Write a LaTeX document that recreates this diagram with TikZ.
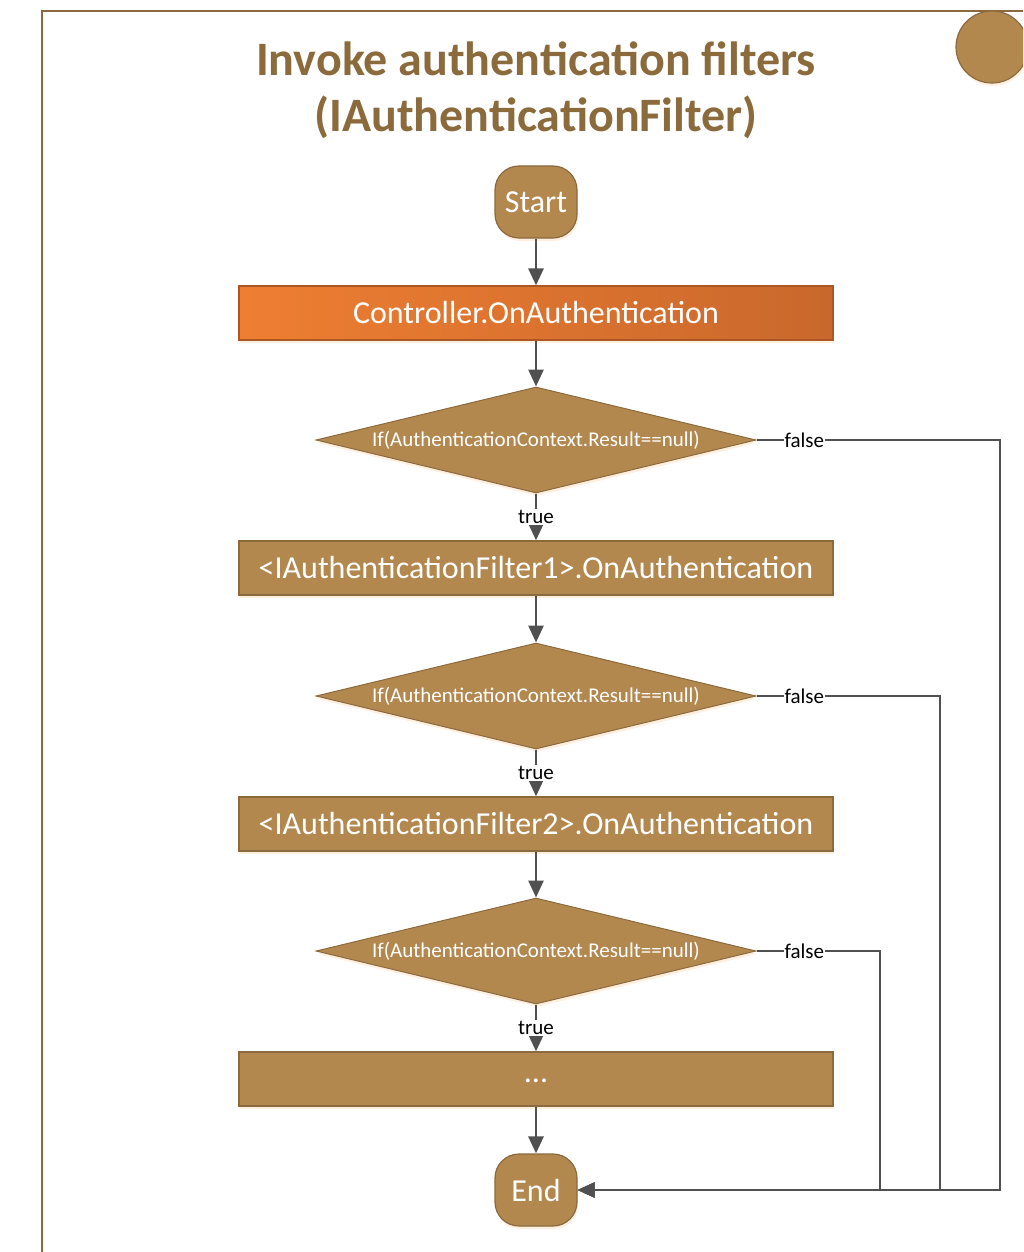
\documentclass[tikz,border=0pt]{standalone}
\usepackage{fontspec}
\setmainfont{Carlito}
\usetikzlibrary{shapes.geometric,arrows.meta,shadows}
\definecolor{bronze}{HTML}{B3884F}
\definecolor{bronzeline}{HTML}{8C6A3E}
\definecolor{titlebrown}{HTML}{8B6A3C}
\definecolor{orangeL}{HTML}{EE7E32}
\definecolor{orangeR}{HTML}{C9682C}
\definecolor{arrowgrey}{HTML}{505050}

\begin{document}
\begin{tikzpicture}[x=1pt,y=-1pt]

    \tikzstyle{glow} = [drop shadow={shadow xshift=1pt, shadow yshift=-3pt, fill=orange!25, opacity=0.5}]
    \tikzstyle{terminal} = [draw=bronzeline, fill=bronze, line width=1.2pt, rounded corners=24pt, minimum width=82pt, minimum height=72pt, text=white, font=\fontsize{32}{36}\selectfont, glow]
    \tikzstyle{process} = [draw=bronzeline, fill=bronze, line width=1.2pt, minimum width=594pt, minimum height=54pt, text=white, font=\fontsize{32}{36}\selectfont, glow]
    \tikzstyle{decision} = [diamond, aspect=4.15, draw=bronzeline, fill=bronze, line width=1pt, minimum width=440pt, minimum height=106pt, inner sep=0pt, text=white, font=\fontsize{21}{24}\selectfont, glow]
    \tikzstyle{flow} = [arrowgrey, line width=2.8pt, -{Triangle[length=17pt,width=15pt]}]
    \tikzstyle{branch} = [arrowgrey, line width=2pt, -{Triangle[length=17pt,width=15pt]}]
    \tikzstyle{answer} = [fill=white, inner sep=1pt, text=black, font=\fontsize{21}{24}\selectfont]
    \tikzstyle{frame} = [draw=bronzeline, line width=2pt]

    \useasboundingbox (0,0) rectangle (1023,1252);
    \clip (0,0) rectangle (1023,1252);

    % page frame and corner badge
    \draw[frame] (42,1252) -- (42,11) -- (1023,11);
    \node[circle, draw=bronzeline, fill=bronze, line width=1.2pt, minimum size=72pt, glow] (badge) at (992,47) {};

    \node[text=titlebrown, align=center, font=\bfseries\fontsize{48}{56}\selectfont] (title) at (536,90) {Invoke authentication filters\\(IAuthenticationFilter)};

    % main column
    \node[terminal] (start) at (536,202) {Start};
    \node[process, left color=orangeL, right color=orangeR, draw=orangeR!85!black] (ctrl) at (536,313) {Controller.OnAuthentication};
    \node[decision] (check1) at (536,440) {If(AuthenticationContext.Result==null)};
    \node[process] (filter1) at (536,568) {<IAuthenticationFilter1>.OnAuthentication};
    \node[decision] (check2) at (536,696) {If(AuthenticationContext.Result==null)};
    \node[process] (filter2) at (536,824) {<IAuthenticationFilter2>.OnAuthentication};
    \node[decision] (check3) at (536,951) {If(AuthenticationContext.Result==null)};
    \node[process] (more) at (536,1079) {\raisebox{-7pt}{...}};
    \node[terminal] (end) at (536,1190) {End};

    \draw[flow] (start) -- (ctrl);
    \draw[flow] (ctrl) -- (check1);
    \draw[flow] (check1) -- node[answer] {true} (filter1);
    \draw[flow] (filter1) -- (check2);
    \draw[flow] (check2) -- node[answer] {true} (filter2);
    \draw[flow] (filter2) -- (check3);
    \draw[flow] (check3) -- node[answer] {true} (more);
    \draw[flow] (more) -- (end);

    % false branches back to End
    \coordinate (turn1) at (1000,440);
    \coordinate (turn2) at (940,696);
    \coordinate (turn3) at (880,951);
    \draw[branch] (check1.east) -- node[answer, pos=0, anchor=west, xshift=26pt] {false} (turn1) |- (end.east);
    \draw[branch] (check2.east) -- node[answer, pos=0, anchor=west, xshift=26pt] {false} (turn2) |- (end.east);
    \draw[branch] (check3.east) -- node[answer, pos=0, anchor=west, xshift=26pt] {false} (turn3) |- (end.east);
\end{tikzpicture}
\end{document}
